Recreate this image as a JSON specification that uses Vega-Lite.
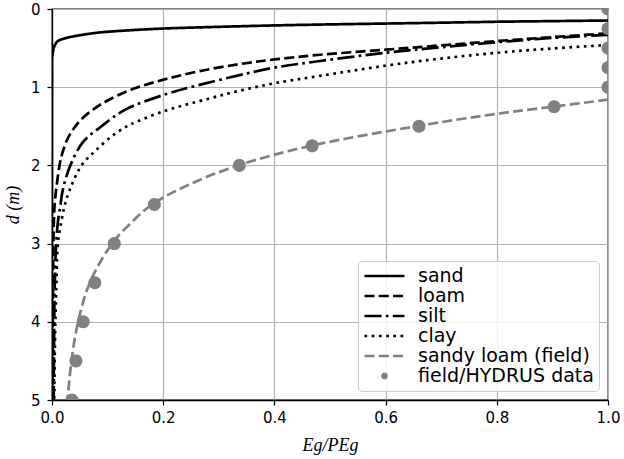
{
  "$schema": "https://vega.github.io/schema/vega-lite/v6.json",
  "autosize": {"type": "none"},
  "padding": {"left": 52, "top": 9, "right": 16, "bottom": 59},
  "width": 556,
  "height": 391,
  "config": {
    "view": {"stroke": "#000000", "strokeWidth": 1.3},
    "axis": {
      "labelFont": "DejaVu Sans", "labelFontSize": 15, "labelColor": "#000000",
      "titleFont": "Liberation Serif", "titleFontSize": 18, "titleFontStyle": "italic", "titleFontWeight": "normal", "titleColor": "#000000",
      "domainColor": "#000000", "domainWidth": 1.3, "tickColor": "#000000", "tickSize": 5, "tickWidth": 1.2,
      "gridColor": "#b0b0b0", "gridWidth": 1.2, "gridOpacity": 1
    },
    "legend": {
      "orient": "bottom-right",
      "offset": 9,
      "padding": 5,
      "rowPadding": 0,
      "clipHeight": 20,
      "symbolType": "stroke",
      "symbolSize": 1600,
      "symbolStrokeWidth": 2.7,
      "labelFont": "DejaVu Sans",
      "labelFontSize": 19,
      "labelColor": "#000000",
      "labelOffset": 12,
      "labelLimit": 400,
      "fillColor": "rgba(255,255,255,0.8)",
      "strokeColor": "#cccccc",
      "cornerRadius": 4
    }
  },
  "datasets": {
    "curves": [
      {"series": "sand", "d": 5.0, "r": 0},
      {"series": "sand", "d": 1.0, "r": 0},
      {"series": "sand", "d": 0.6, "r": 0.0005},
      {"series": "sand", "d": 0.56, "r": 0.0015},
      {"series": "sand", "d": 0.5, "r": 0.003},
      {"series": "sand", "d": 0.45, "r": 0.006},
      {"series": "sand", "d": 0.41, "r": 0.0105},
      {"series": "sand", "d": 0.37, "r": 0.026},
      {"series": "sand", "d": 0.33, "r": 0.055},
      {"series": "sand", "d": 0.3, "r": 0.086},
      {"series": "sand", "d": 0.27, "r": 0.145},
      {"series": "sand", "d": 0.25, "r": 0.2},
      {"series": "sand", "d": 0.228, "r": 0.3},
      {"series": "sand", "d": 0.21, "r": 0.4},
      {"series": "sand", "d": 0.197, "r": 0.5},
      {"series": "sand", "d": 0.186, "r": 0.6},
      {"series": "sand", "d": 0.175, "r": 0.7},
      {"series": "sand", "d": 0.163, "r": 0.8},
      {"series": "sand", "d": 0.155, "r": 0.9},
      {"series": "sand", "d": 0.147, "r": 1.0},
      {"series": "loam", "d": 5.0, "r": 0.001},
      {"series": "loam", "d": 4.0, "r": 0.0015},
      {"series": "loam", "d": 3.5, "r": 0.002},
      {"series": "loam", "d": 3.0, "r": 0.0025},
      {"series": "loam", "d": 2.73, "r": 0.0033},
      {"series": "loam", "d": 2.52, "r": 0.0045},
      {"series": "loam", "d": 2.31, "r": 0.0075},
      {"series": "loam", "d": 2.0, "r": 0.0135},
      {"series": "loam", "d": 1.86, "r": 0.018},
      {"series": "loam", "d": 1.69, "r": 0.026},
      {"series": "loam", "d": 1.55, "r": 0.037},
      {"series": "loam", "d": 1.41, "r": 0.053},
      {"series": "loam", "d": 1.28, "r": 0.075},
      {"series": "loam", "d": 1.17, "r": 0.1},
      {"series": "loam", "d": 1.03, "r": 0.143},
      {"series": "loam", "d": 0.905, "r": 0.2},
      {"series": "loam", "d": 0.795, "r": 0.265},
      {"series": "loam", "d": 0.705, "r": 0.3375},
      {"series": "loam", "d": 0.645, "r": 0.4},
      {"series": "loam", "d": 0.585, "r": 0.482},
      {"series": "loam", "d": 0.52, "r": 0.6},
      {"series": "loam", "d": 0.465, "r": 0.7},
      {"series": "loam", "d": 0.41, "r": 0.8},
      {"series": "loam", "d": 0.36, "r": 0.9},
      {"series": "loam", "d": 0.31, "r": 1.0},
      {"series": "silt", "d": 5.0, "r": 0.003},
      {"series": "silt", "d": 4.0, "r": 0.004},
      {"series": "silt", "d": 3.5, "r": 0.005},
      {"series": "silt", "d": 3.0, "r": 0.0075},
      {"series": "silt", "d": 2.73, "r": 0.0105},
      {"series": "silt", "d": 2.52, "r": 0.015},
      {"series": "silt", "d": 2.31, "r": 0.0195},
      {"series": "silt", "d": 2.0, "r": 0.033},
      {"series": "silt", "d": 1.7, "r": 0.056},
      {"series": "silt", "d": 1.5, "r": 0.089},
      {"series": "silt", "d": 1.29, "r": 0.131},
      {"series": "silt", "d": 1.1, "r": 0.2},
      {"series": "silt", "d": 0.98, "r": 0.26},
      {"series": "silt", "d": 0.825, "r": 0.35},
      {"series": "silt", "d": 0.75, "r": 0.4},
      {"series": "silt", "d": 0.665, "r": 0.482},
      {"series": "silt", "d": 0.56, "r": 0.6},
      {"series": "silt", "d": 0.49, "r": 0.698},
      {"series": "silt", "d": 0.425, "r": 0.8},
      {"series": "silt", "d": 0.37, "r": 0.9},
      {"series": "silt", "d": 0.33, "r": 1.0},
      {"series": "clay", "d": 5.0, "r": 0.004},
      {"series": "clay", "d": 4.0, "r": 0.006},
      {"series": "clay", "d": 3.5, "r": 0.008},
      {"series": "clay", "d": 3.0, "r": 0.0105},
      {"series": "clay", "d": 2.73, "r": 0.0165},
      {"series": "clay", "d": 2.52, "r": 0.0225},
      {"series": "clay", "d": 2.31, "r": 0.032},
      {"series": "clay", "d": 2.0, "r": 0.053},
      {"series": "clay", "d": 1.82, "r": 0.077},
      {"series": "clay", "d": 1.63, "r": 0.107},
      {"series": "clay", "d": 1.52, "r": 0.13},
      {"series": "clay", "d": 1.47, "r": 0.143},
      {"series": "clay", "d": 1.31, "r": 0.2},
      {"series": "clay", "d": 1.15, "r": 0.28},
      {"series": "clay", "d": 1.045, "r": 0.3375},
      {"series": "clay", "d": 0.95, "r": 0.4},
      {"series": "clay", "d": 0.855, "r": 0.482},
      {"series": "clay", "d": 0.725, "r": 0.6},
      {"series": "clay", "d": 0.635, "r": 0.698},
      {"series": "clay", "d": 0.56, "r": 0.8},
      {"series": "clay", "d": 0.505, "r": 0.9},
      {"series": "clay", "d": 0.46, "r": 1.0},
      {"series": "sandy loam (field)", "d": 5.0, "r": 0.028},
      {"series": "sandy loam (field)", "d": 4.5, "r": 0.035},
      {"series": "sandy loam (field)", "d": 4.0, "r": 0.047},
      {"series": "sandy loam (field)", "d": 3.5, "r": 0.068},
      {"series": "sandy loam (field)", "d": 3.0, "r": 0.108},
      {"series": "sandy loam (field)", "d": 2.75, "r": 0.14},
      {"series": "sandy loam (field)", "d": 2.5, "r": 0.18},
      {"series": "sandy loam (field)", "d": 2.25, "r": 0.245},
      {"series": "sandy loam (field)", "d": 2.0, "r": 0.335},
      {"series": "sandy loam (field)", "d": 1.75, "r": 0.465},
      {"series": "sandy loam (field)", "d": 1.5, "r": 0.655},
      {"series": "sandy loam (field)", "d": 1.35, "r": 0.79},
      {"series": "sandy loam (field)", "d": 1.25, "r": 0.9},
      {"series": "sandy loam (field)", "d": 1.16, "r": 1.0}
    ],
    "obs": [
      {"series": "field/HYDRUS data", "d": 0.0, "r": 1.0},
      {"series": "field/HYDRUS data", "d": 0.25, "r": 1.0},
      {"series": "field/HYDRUS data", "d": 0.5, "r": 1.0},
      {"series": "field/HYDRUS data", "d": 0.75, "r": 1.0},
      {"series": "field/HYDRUS data", "d": 1.0, "r": 1.0},
      {"series": "field/HYDRUS data", "d": 1.25, "r": 0.903},
      {"series": "field/HYDRUS data", "d": 1.5, "r": 0.66},
      {"series": "field/HYDRUS data", "d": 1.75, "r": 0.468},
      {"series": "field/HYDRUS data", "d": 2.0, "r": 0.337},
      {"series": "field/HYDRUS data", "d": 2.5, "r": 0.184},
      {"series": "field/HYDRUS data", "d": 3.0, "r": 0.112},
      {"series": "field/HYDRUS data", "d": 3.5, "r": 0.077},
      {"series": "field/HYDRUS data", "d": 4.0, "r": 0.056},
      {"series": "field/HYDRUS data", "d": 4.5, "r": 0.043},
      {"series": "field/HYDRUS data", "d": 5.0, "r": 0.036}
    ]
  },
  "encoding": {
    "x": {
      "field": "r", "type": "quantitative",
      "scale": {"domain": [0, 1], "nice": false, "zero": false},
      "axis": {"title": "Eg/PEg", "values": [0, 0.2, 0.4, 0.6, 0.8, 1.0], "format": ".1f", "labelPadding": 5, "titlePadding": 11, "labelFlush": false}
    },
    "y": {
      "field": "d", "type": "quantitative",
      "scale": {"domain": [0, 5], "reverse": true, "nice": false, "zero": false},
      "axis": {"title": "d (m)", "values": [0, 1, 2, 3, 4, 5], "format": "d", "labelPadding": 7, "titlePadding": 8, "labelFlush": false}
    },
    "color": {
      "field": "series", "type": "nominal",
      "scale": {
        "domain": ["sand", "loam", "silt", "clay", "sandy loam (field)", "field/HYDRUS data"],
        "range": ["#000000", "#000000", "#000000", "#000000", "#808080", "#808080"]
      },
      "legend": {"title": null}
    }
  },
  "layer": [
    {
      "data": {"name": "curves"},
      "mark": {"type": "line", "strokeWidth": 2.7, "clip": true, "interpolate": "catmull-rom"},
      "encoding": {
        "order": {"field": "d", "type": "quantitative"},
        "strokeDash": {
          "field": "series", "type": "nominal",
          "scale": {
            "domain": ["sand", "loam", "silt", "clay", "sandy loam (field)", "field/HYDRUS data"],
            "range": [[1, 0], [10, 4.3], [17, 4.3, 2.7, 4.3], [2.7, 4.5], [10, 4.3], [1, 0]]
          },
          "legend": {"title": null}
        }
      }
    },
    {
      "data": {"name": "obs"},
      "mark": {"type": "point", "filled": true, "size": 16900, "opacity": 1, "clip": true},
      "encoding": {
        "shape": {
          "field": "series", "type": "nominal",
          "scale": {
            "domain": ["sand", "loam", "silt", "clay", "sandy loam (field)", "field/HYDRUS data"],
            "range": ["stroke", "stroke", "stroke", "stroke", "stroke", "M0.1,0L0.0966,0.0259L0.0866,0.05L0.0707,0.0707L0.05,0.0866L0.0259,0.0966L0,0.1L-0.0259,0.0966L-0.05,0.0866L-0.0707,0.0707L-0.0866,0.05L-0.0966,0.0259L-0.1,0L-0.0966,-0.0259L-0.0866,-0.05L-0.0707,-0.0707L-0.05,-0.0866L-0.0259,-0.0966L0,-0.1L0.0259,-0.0966L0.05,-0.0866L0.0707,-0.0707L0.0866,-0.05L0.0966,-0.0259Z"]
          },
          "legend": {"title": null}
        }
      }
    }
  ]
}
